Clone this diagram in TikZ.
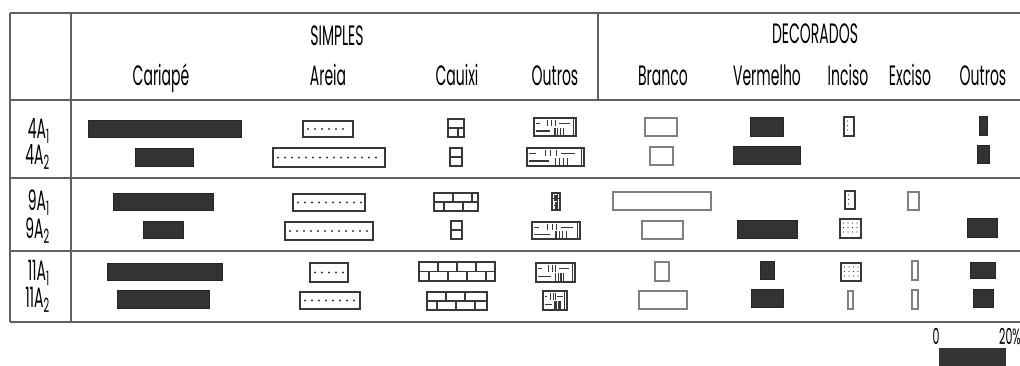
\documentclass[tikz,border=0pt]{standalone}
\usepackage{fontspec}
\setmainfont{Poppins}[FakeStretch=0.5]
\usetikzlibrary{calc}
\definecolor{barc}{gray}{0.2}
\definecolor{linec}{gray}{0.38}
\definecolor{patc}{gray}{0.22}
\tikzset{
  tline/.style={draw=linec, line width=1.6pt},
  darkbar/.style={fill=barc, draw=black!85, line width=0.6pt},
  patline/.style={draw=patc, line width=1.3pt},
  lightbox/.style={draw=black!50, line width=1.3pt},
  hdr/.style={anchor=base, inner sep=0pt, font=\fontsize{28}{30}\selectfont},
  grp/.style={anchor=base, inner sep=0pt, font=\fontsize{28}{30}\selectfont},
  rowlab/.style={anchor=base east, inner sep=0pt, font=\fontsize{28}{30}\selectfont},
  scl/.style={anchor=base, inner sep=0pt, font=\fontsize{22}{24}\selectfont},
}
% dark filled bar
\newcommand{\darkb}[4]{\fill[darkbar] (#1,#2) rectangle (#3,#4);}
% empty light box (Branco, Exciso)
\newcommand{\lightb}[4]{\draw[lightbox] (#1,#2) rectangle (#3,#4);}
% Areia: box with a row of dots
\newcommand{\areiab}[4]{%
  \draw[patline] (#1,#2) rectangle (#3,#4);
  \pgfmathsetmacro\ay{(#2+#4)/2}
  \foreach \k in {0,...,20}{
    \pgfmathsetmacro\ax{#1+5+7*\k}
    \ifdim\ax pt<\dimexpr#3pt-3pt\relax \fill[patc] (\ax,\ay) circle (1.1); \fi
  }}
% Cauixi: brick pattern
\newcommand{\cauixib}[4]{%
  \draw[patline] (#1,#2) rectangle (#3,#4);
  \pgfmathsetmacro\cm{(#2+#4)/2}
  \draw[patline] (#1,\cm) -- (#3,\cm);
  \foreach \k in {0,...,6}{
    \pgfmathsetmacro\cx{#1+19*(\k+1)}
    \ifdim\cx pt<\dimexpr#3pt-3pt\relax \draw[patline] (\cx,#2) -- (\cx,\cm); \fi
    \pgfmathsetmacro\cxx{#1+10+19*\k}
    \ifdim\cxx pt<\dimexpr#3pt-2pt\relax \draw[patline] (\cxx,\cm) -- (\cxx,#4); \fi
  }}
% Outros (simples): dashes and ticks
\newcommand{\outrosb}[4]{%
  \draw[patline] (#1,#2) rectangle (#3,#4);
  \pgfmathsetmacro\ow{#3-#1}\pgfmathsetmacro\oh{#4-#2}
  \draw[patc, line width=1.1pt] ({#3-2.5},#2) -- ({#3-2.5},#4);
  \draw[patc, line width=1.1pt]
    ({#1+2},{#2+0.3*\oh}) -- ({#1+0.15*\ow},{#2+0.3*\oh})
    ({#1+0.6*\ow},{#2+0.3*\oh}) -- ({#1+0.85*\ow},{#2+0.3*\oh})
    ({#1+2},{#2+0.72*\oh}) -- ({#1+0.38*\ow},{#2+0.72*\oh})
    ({#1+0.33*\ow},{#2+1.5}) -- ({#1+0.33*\ow},{#2+0.45*\oh})
    ({#1+0.42*\ow},{#2+1.5}) -- ({#1+0.42*\ow},{#2+0.45*\oh})
    ({#1+0.51*\ow},{#2+1.5}) -- ({#1+0.51*\ow},{#2+0.45*\oh})
    ({#1+0.50*\ow},{#2+0.55*\oh}) -- ({#1+0.50*\ow},{#4-1.5})
    ({#1+0.57*\ow},{#2+0.55*\oh}) -- ({#1+0.57*\ow},{#4-1.5})
    ({#1+0.64*\ow},{#2+0.55*\oh}) -- ({#1+0.64*\ow},{#4-1.5})
    ({#1+0.71*\ow},{#2+0.55*\oh}) -- ({#1+0.71*\ow},{#4-1.5});
  }
% Inciso: box with grid of dots
\newcommand{\incisob}[4]{%
  \draw[patline] (#1,#2) rectangle (#3,#4);
  \foreach \i in {0,...,5}{
    \foreach \j in {0,...,5}{
      \pgfmathsetmacro\ix{#1+3.5+4.5*\i}
      \pgfmathsetmacro\iy{#2+4+4.5*\j}
      \ifdim\ix pt<\dimexpr#3pt-2pt\relax
        \ifdim\iy pt<\dimexpr#4pt-2pt\relax \fill[patc] (\ix,\iy) circle (0.7); \fi
      \fi
    }}}
\begin{document}
\begin{tikzpicture}[x=1pt,y=-1pt]
\useasboundingbox (0,0) rectangle (1020,365);
% table lines
\draw[tline] (10,13) -- (1020,13);
\draw[tline] (10,100) -- (1020,100);
\draw[tline] (10,178) -- (1020,178);
\draw[tline] (10,251) -- (1020,251);
\draw[tline] (10,322) -- (1020,322);
\draw[tline] (10,13) -- (10,322);
\draw[tline] (71,13) -- (71,322);
\draw[tline] (598,13) -- (598,100);
% group headers
\node[grp] (simples) at (337,45) {SIMPLES};
\node[grp] (decorados) at (815,43) {DECORADOS};
% column headers
\node[hdr] (h1) at (161,85) {Cariapé};
\node[hdr] (h2) at (328,85) {Areia};
\node[hdr] (h3) at (457,85) {Cauixi};
\node[hdr] (h4) at (555,85) {Outros};
\node[hdr] (h5) at (663,85) {Branco};
\node[hdr] (h6) at (767,85) {Vermelho};
\node[hdr] (h7) at (848,85) {Inciso};
\node[hdr] (h8) at (910,85) {Exciso};
\node[hdr] (h9) at (983,85) {Outros};
% row labels
\node[rowlab] (r1) at (50,138) {4A\textsubscript{1}};
\node[rowlab] (r2) at (50,164) {4A\textsubscript{2}};
\node[rowlab] (r3) at (50,210) {9A\textsubscript{1}};
\node[rowlab] (r4) at (50,238) {9A\textsubscript{2}};
\node[rowlab] (r5) at (50,280) {11A\textsubscript{1}};
\node[rowlab] (r6) at (50,307) {11A\textsubscript{2}};
% row 4A1
\darkb{88}{120}{241}{137}
\areiab{303}{121}{353}{137}
\cauixib{448}{119}{464}{137}
\outrosb{534}{118}{576}{136}
\lightb{645}{118}{677}{136}
\darkb{750}{117}{783}{136}
\incisob{844}{117}{854}{136}
\darkb{979}{116}{987}{135}
% row 4A2
\darkb{135}{148}{193}{166}
\areiab{273}{148}{385}{167}
\cauixib{450}{148}{462}{166}
\outrosb{527}{148}{584}{166}
\lightb{650}{147}{673}{165}
\darkb{733}{146}{800}{164}
\darkb{977}{145}{989}{163}
% row 9A1
\darkb{113}{193}{213}{210}
\areiab{293}{194}{365}{211}
\cauixib{434}{193}{478}{211}
\outrosb{552}{193}{560}{210}
\lightb{613}{192}{711}{210}
\incisob{845}{191}{855}{209}
\lightb{908}{192}{919}{210}
% row 9A2
\darkb{143}{221}{183}{238}
\areiab{285}{222}{373}{240}
\cauixib{451}{221}{462}{239}
\outrosb{532}{222}{580}{239}
\lightb{642}{221}{683}{239}
\darkb{737}{220}{797}{238}
\incisob{840}{219}{861}{238}
\darkb{967}{218}{997}{237}
% row 11A1
\darkb{107}{263}{222}{280}
\areiab{310}{263}{348}{282}
\cauixib{419}{262}{495}{281}
\outrosb{536}{263}{575}{282}
\lightb{655}{262}{669}{281}
\darkb{760}{261}{774}{279}
\incisob{841}{263}{861}{281}
\lightb{912}{261}{918}{280}
\darkb{970}{262}{995}{278}
% row 11A2
\darkb{117}{290}{209}{308}
\areiab{300}{292}{360}{309}
\cauixib{427}{292}{487}{310}
\outrosb{543}{291}{567}{310}
\lightb{639}{291}{687}{309}
\darkb{751}{289}{783}{307}
\lightb{848}{291}{853}{309}
\lightb{912}{290}{918}{309}
\darkb{973}{289}{993}{307}
% scale
\node[scl] (s0) at (936,344) {0};
\node[scl] (s20) at (1010,344) {20\%};
\fill[barc] (939,348) rectangle (1006,366);
\end{tikzpicture}
\end{document}
